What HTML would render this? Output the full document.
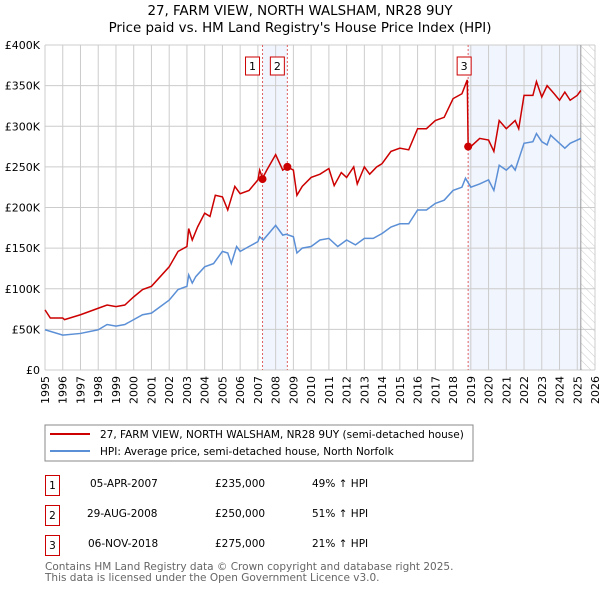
<!DOCTYPE html>
<html><head><meta charset="utf-8"><style>
body{margin:0;background:#fff;font-family:"Liberation Sans","DejaVu Sans",sans-serif;}
svg text{font-family:"DejaVu Sans","Liberation Sans",sans-serif;}
</style></head><body>
<svg id="c" width="600" height="590" xmlns="http://www.w3.org/2000/svg">
<defs><pattern id="hatch" width="6" height="6" patternUnits="userSpaceOnUse" patternTransform="rotate(-45)"><line x1="0" y1="0" x2="0" y2="6" stroke="#ccc" stroke-width="1"/></pattern></defs>
<text x="300" y="15" text-anchor="middle" font-size="13.4">27, FARM VIEW, NORTH WALSHAM, NR28 9UY</text>
<text x="300" y="32" text-anchor="middle" font-size="13.4">Price paid vs. HM Land Registry's House Price Index (HPI)</text>
<g id="plot"></g>
<rect x="45" y="425" width="428" height="36" fill="#fff" stroke="#888"/>
<line x1="50" y1="434" x2="90" y2="434" stroke="#cc0000" stroke-width="2"/>
<text x="100" y="438" font-size="10.5">27, FARM VIEW, NORTH WALSHAM, NR28 9UY (semi-detached house)</text>
<line x1="50" y1="451" x2="90" y2="451" stroke="#5b8fd6" stroke-width="2"/>
<text x="100" y="455" font-size="10.5">HPI: Average price, semi-detached house, North Norfolk</text>
<g font-size="10.5">
<rect x="45.5" y="475.5" width="14" height="20" fill="#fff" stroke="#cc0000"/><text x="52.5" y="489" text-anchor="middle">1</text>
<text x="90" y="487">05-APR-2007</text><text x="215" y="487">£235,000</text><text x="312" y="487">49% ↑ HPI</text>
<rect x="45.5" y="505.5" width="14" height="20" fill="#fff" stroke="#cc0000"/><text x="52.5" y="519" text-anchor="middle">2</text>
<text x="87" y="517">29-AUG-2008</text><text x="215" y="517">£250,000</text><text x="312" y="517">51% ↑ HPI</text>
<rect x="45.5" y="535.5" width="14" height="20" fill="#fff" stroke="#cc0000"/><text x="52.5" y="549" text-anchor="middle">3</text>
<text x="88" y="547">06-NOV-2018</text><text x="215" y="547">£275,000</text><text x="312" y="547">21% ↑ HPI</text>
</g>
<text x="45" y="570" font-size="10.5" fill="#666">Contains HM Land Registry data © Crown copyright and database right 2025.</text>
<text x="45" y="581" font-size="10.5" fill="#666">This data is licensed under the Open Government Licence v3.0.</text>
</svg>
<script>
const hpiYears=[1995,1996,1997,1998,1998.5,1999,1999.5,2000,2000.5,2001,2001.5,2002,2002.5,2003,2003.1,2003.3,2003.5,2004,2004.5,2005,2005.3,2005.5,2005.8,2006,2006.5,2007,2007.1,2007.3,2008,2008.4,2008.6,2009,2009.2,2009.5,2010,2010.5,2011,2011.5,2012,2012.5,2013,2013.5,2014,2014.5,2015,2015.5,2016,2016.5,2017,2017.5,2018,2018.5,2018.7,2019,2019.5,2020,2020.3,2020.6,2021,2021.3,2021.5,2022,2022.5,2022.7,2023,2023.3,2023.5,2024,2024.3,2024.6,2025,2025.2];
const hpiValues=[49.5,43,45,49.5,56,54,56,62,68,70,78,86,99,103,117,107,115,127,131,146,144,131,152,146,152,158,164,160,178,166,167,164,144,150,152,160,162,152,160,154,162,162,168,176,180,180,197,197,205,209,221,225,236,225,229,234,221,252,246,252,246,279,281,291,281,277,289,279,273,279,283,285];
const priceYears=[1995,1995.3,1996,1996.1,1997,1998,1998.5,1999,1999.5,2000,2000.5,2001,2001.5,2002,2002.5,2003,2003.1,2003.3,2003.6,2004,2004.3,2004.6,2005,2005.3,2005.7,2006,2006.5,2007,2007.1,2007.26,2007.5,2008,2008.4,2008.66,2009,2009.2,2009.5,2010,2010.5,2011,2011.3,2011.7,2012,2012.4,2012.6,2013,2013.3,2013.7,2014,2014.5,2015,2015.5,2016,2016.5,2017,2017.5,2018,2018.5,2018.8,2018.85,2019,2019.5,2020,2020.3,2020.6,2021,2021.5,2021.7,2022,2022.5,2022.7,2023,2023.3,2023.7,2024,2024.3,2024.6,2025,2025.2];
const priceValues=[74,64,64,62,68,76,80,78,80,90,99,103,115,127,146,152,174,160,176,193,189,215,213,197,226,217,221,234,246,236,246,265,246,250,246,215,226,237,241,248,227,243,237,250,229,250,241,250,254,269,273,271,297,297,307,311,334,340,357,275,275,285,283,269,307,297,307,297,338,338,355,336,350,340,332,342,332,338,344];
const saleYears=[2007.26,2008.66,2018.85];
const saleValues=[235,250,275];
const saleLabels=["1","2","3"];
const yTicks=[0,50,100,150,200,250,300,350,400];
const yTickLabels=["£0","£50K","£100K","£150K","£200K","£250K","£300K","£350K","£400K"];
const xTicks=[1995,1996,1997,1998,1999,2000,2001,2002,2003,2004,2005,2006,2007,2008,2009,2010,2011,2012,2013,2014,2015,2016,2017,2018,2019,2020,2021,2022,2023,2024,2025,2026];
const dataEnd=2025.2;
const L=45,R=595,T=45,B=370;
const xs=y=>L+(y-1995)/(2026-1995)*(R-L);
const ys=v=>B-v/400*(B-T);
const NS="http://www.w3.org/2000/svg";
const g=document.getElementById('plot');
function mk(tag,attrs,parent){const e=document.createElementNS(NS,tag);for(const k in attrs)e.setAttribute(k,attrs[k]);(parent||g).appendChild(e);return e;}
let e;
e=mk('rect',{x:L,y:T,width:R-L,height:B-T,fill:'#fff'});


e=mk('rect',{x:xs(saleYears[0]),y:T,width:xs(saleYears[1])-xs(saleYears[0]),height:B-T,fill:'#eef3fc',opacity:0.8});


e=mk('rect',{x:xs(saleYears[2]),y:T,width:xs(dataEnd)-xs(saleYears[2]),height:B-T,fill:'#eef3fc',opacity:0.8});


e=mk('rect',{x:xs(dataEnd),y:T,width:R-xs(dataEnd),height:B-T,fill:'url(#hatch)'});


xTicks.forEach(t=>{const x=xs(t);
 e=mk('line',{x1:x,y1:T,x2:x,y2:B,stroke:'#ccc'});
 
 
 e=mk('text',{x:0,y:0,'font-size':11,'text-anchor':'end',transform:`translate(${x+4},${B+6}) rotate(-90)`});
 e.textContent=t;
 
 });
yTicks.forEach((t,i)=>{const y=ys(t);
 e=mk('line',{x1:L,y1:y,x2:R,y2:y,stroke:'#ccc'});
 
 
 e=mk('text',{x:L-5,y:y+4,'font-size':11,'text-anchor':'end'});
 e.textContent=yTickLabels[i];
 
 });
e=mk('line',{x1:xs(dataEnd),y1:T,x2:xs(dataEnd),y2:B,stroke:'#999'});


saleYears.forEach(s=>{e=mk('line',{x1:xs(s),y1:T,x2:xs(s),y2:B,stroke:'#e06060','stroke-dasharray':'2,2'});
 
 });
e=mk('polyline',{points:hpiYears.map((y,i)=>xs(y)+','+ys(hpiValues[i])).join(' '),fill:'none',stroke:'#5b8fd6','stroke-width':1.5});


e=mk('polyline',{points:priceYears.map((y,i)=>xs(y)+','+ys(priceValues[i])).join(' '),fill:'none',stroke:'#cc0000','stroke-width':1.5});


saleYears.forEach((s,i)=>{
 e=mk('circle',{cx:xs(s),cy:ys(saleValues[i]),r:4,fill:'#cc0000'});
 
 
 const bx=xs(s)-(i==2?4:10)-7;
 e=mk('rect',{x:bx,y:57,width:14,height:18,fill:'#fff',stroke:'#cc0000'});
 
 
 e=mk('text',{x:bx+7,y:70,'font-size':11,'text-anchor':'middle'});
 e.textContent=saleLabels[i];
 
 });
</script>
</body></html>
